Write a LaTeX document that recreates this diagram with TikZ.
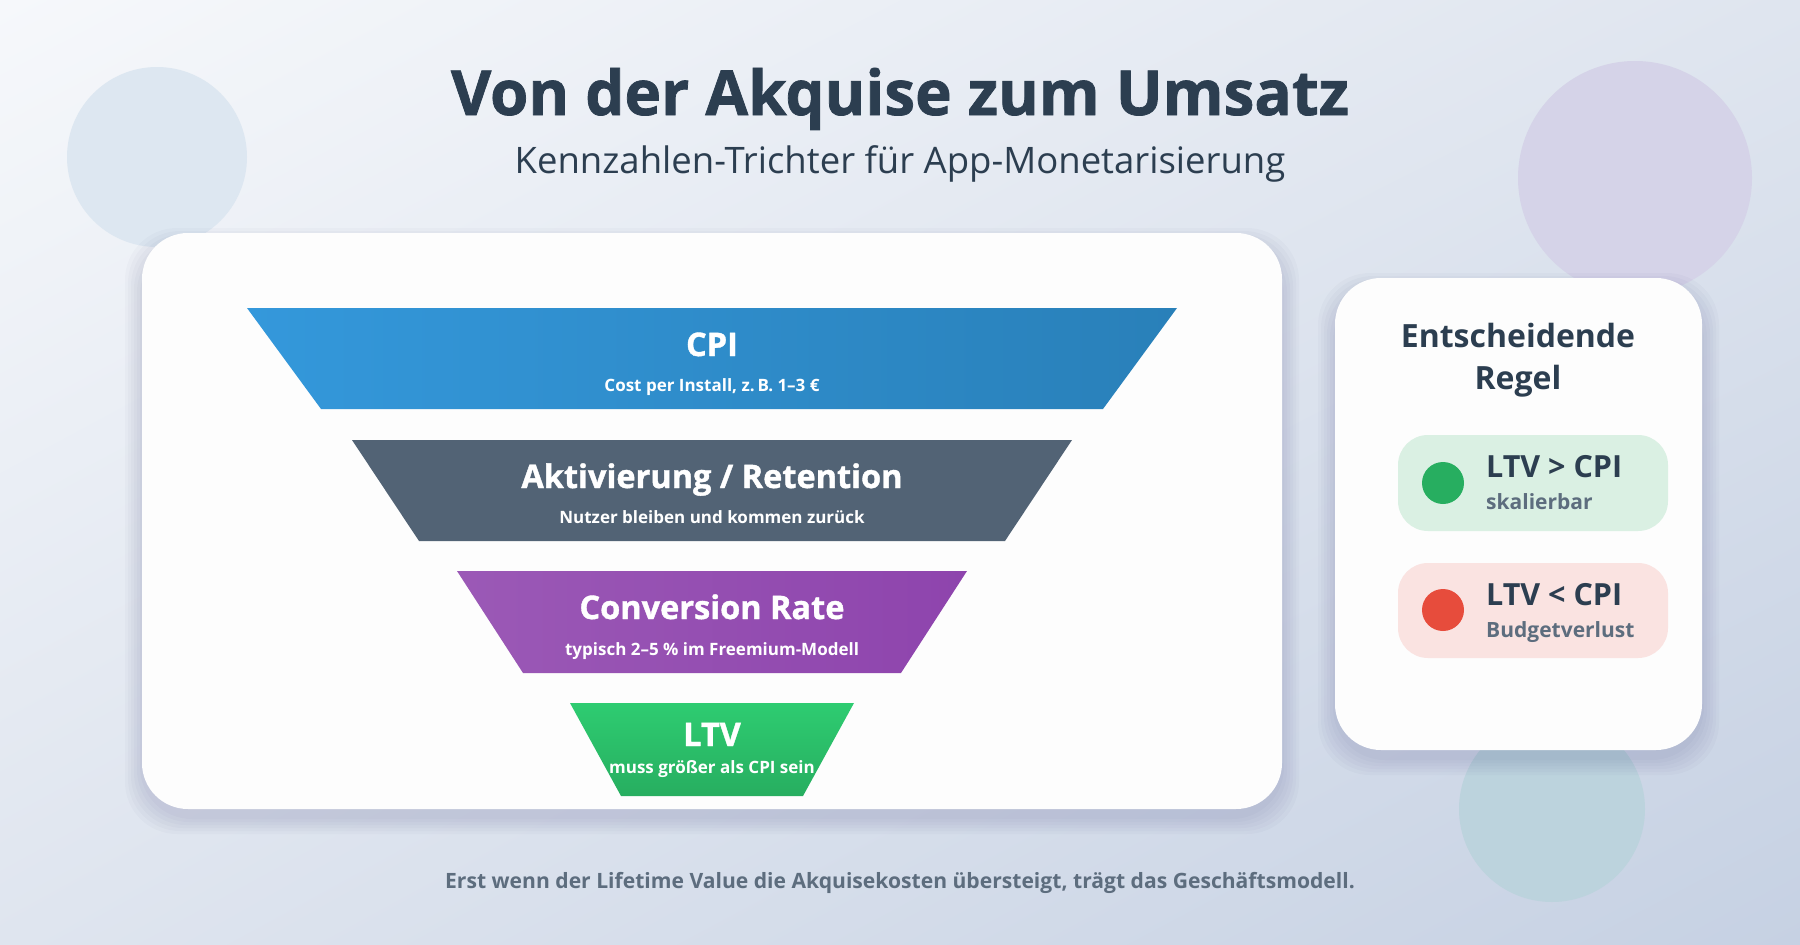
\documentclass[tikz,border=0pt]{standalone}
\usepackage{fontspec}
\setmainfont{Open Sans}
\newfontfamily\heavyfont{Open Sans}[FakeBold=1.2]
\usetikzlibrary{positioning,calc,shadings}
\definecolor{ink}{HTML}{2C3E50}
\definecolor{muted}{HTML}{5D6D7E}
\definecolor{bgA}{HTML}{F6F8FB}
\definecolor{bgM}{HTML}{DFE5EF}
\definecolor{bgB}{HTML}{C6D1E3}
\definecolor{cardwhite}{HTML}{FDFDFD}
\definecolor{cpiA}{HTML}{3498DB}
\definecolor{cpiB}{HTML}{2980B9}
\definecolor{actA}{HTML}{526375}
\definecolor{convA}{HTML}{9B59B6}
\definecolor{convB}{HTML}{8E44AD}
\definecolor{ltvA}{HTML}{2ECC71}
\definecolor{ltvB}{HTML}{27AE60}
\definecolor{okFill}{HTML}{DAF0E3}
\definecolor{badFill}{HTML}{FAE3E1}
\definecolor{okDot}{HTML}{27AE60}
\definecolor{badDot}{HTML}{E74C3C}
\definecolor{blobA}{HTML}{DDE7F1}
\definecolor{blobB}{HTML}{D5D3E8}
\definecolor{blobC}{HTML}{BCD3DD}
\tikzset{
  heading/.style={text=ink,font=\heavyfont\bfseries\fontsize{62}{68}\selectfont,inner sep=0,anchor=base},
  subheading/.style={text=ink,font=\fontsize{36.5}{42}\selectfont,inner sep=0,anchor=base},
  card/.style={fill=cardwhite,rounded corners=46},
  cardshadow/.style={fill=black!70!blue,fill opacity=0.018,rounded corners=52},
  stagetitle/.style={text=white,font=\heavyfont\bfseries\fontsize{32.5}{36}\selectfont,inner sep=0,anchor=base},
  stagesub/.style={text=white,font=\bfseries\fontsize{17}{20}\selectfont,inner sep=0,anchor=base},
  ruletitle/.style={text=ink,font=\bfseries\fontsize{32}{40}\selectfont,inner sep=0,anchor=base},
  rulebox/.style={rounded corners=30},
  dot/.style={circle,inner sep=0,minimum size=42},
  rulemain/.style={text=ink,font=\bfseries\fontsize{30.5}{34}\selectfont,anchor=base west,inner sep=0},
  rulenote/.style={text=muted,font=\bfseries\fontsize{21}{24}\selectfont,anchor=base west,inner sep=0},
  closing/.style={text=muted,font=\bfseries\fontsize{21.1}{24}\selectfont,inner sep=0,anchor=base}
}

\begin{document}
\begin{tikzpicture}[x=1pt,y=-1pt]
  % Page and background
  \useasboundingbox (0,0) rectangle (1800,945);
  \shade[upper left=bgA,upper right=bgM,lower left=bgM,lower right=bgB] (0,0) rectangle (1800,945);

  % Soft circles behind the cards
  \fill[blobA] (157,157) circle (90);
  \fill[blobB] (1635,178) circle (117);
  \fill[blobC] (1552,809) circle (93);

  % Title
  \node[heading] (title) at (900,115) {Von der Akquise zum Umsatz};
  \node[subheading] (subtitle) at (900,173) {Kennzahlen-Trichter für App-Monetarisierung};

  % Funnel card
  \foreach \g in {2,5,8,11,14,17}
    \fill[cardshadow] (142-\g,233-\g+12) rectangle (1282+\g,809+\g+8);
  \fill[card] (142,233) rectangle (1282,809);

  % Funnel stages
  \def\cx{712}
  \shade[left color=cpiA,right color=cpiB]
    (\cx-465,308) -- (\cx+465,308) -- (\cx+391,409) -- (\cx-391,409) -- cycle;
  \fill[actA]
    (\cx-360,440) -- (\cx+360,440) -- (\cx+293,541) -- (\cx-293,541) -- cycle;
  \shade[left color=convA,right color=convB]
    (\cx-255,571) -- (\cx+255,571) -- (\cx+189,673) -- (\cx-189,673) -- cycle;
  \shade[top color=ltvA,bottom color=ltvB]
    (\cx-142,703) -- (\cx+142,703) -- (\cx+91,796) -- (\cx-91,796) -- cycle;

  % Stage labels
  \node[stagetitle] (cpi) at (\cx,356) {CPI};
  \node[stagesub] (cpinote) at (\cx,391) {Cost per Install, z.\,B. 1–3 €};
  \node[stagetitle] (act) at (\cx,488) {Aktivierung / Retention};
  \node[stagesub] (actnote) at (\cx,523) {Nutzer bleiben und kommen zurück};
  \node[stagetitle] (conv) at (\cx,619) {Conversion Rate};
  \node[stagesub] (convnote) at (\cx,655) {typisch 2–5 \% im Freemium-Modell};
  \node[stagetitle] (ltv) at (\cx,746) {LTV};
  \node[stagesub] (ltvnote) at (\cx,773) {muss größer als CPI sein};

  % Rule card
  \foreach \g in {2,5,8,11,14,17}
    \fill[cardshadow] (1335-\g,278-\g+12) rectangle (1702+\g,750+\g+8);
  \fill[card] (1335,278) rectangle (1702,750);
  \node[ruletitle] (rule1) at (1518,347) {Entscheidende};
  \node[ruletitle] (rule2) at (1518,389) {Regel};

  % Good case
  \fill[okFill,rulebox] (1398,435) rectangle (1668,531);
  \node[dot,fill=okDot] (okdot) at (1443,483) {};
  \node[rulemain] (ok) at (1486,477) {LTV > CPI};
  \node[rulenote] (oknote) at (1486,509) {skalierbar};

  % Bad case
  \fill[badFill,rulebox] (1398,563) rectangle (1668,658);
  \node[dot,fill=badDot] (baddot) at (1443,610) {};
  \node[rulemain] (bad) at (1486,605) {LTV < CPI};
  \node[rulenote] (badnote) at (1486,637) {Budgetverlust};

  % Closing line
  \node[closing] (summary) at (900,888) {Erst wenn der Lifetime Value die Akquisekosten übersteigt, trägt das Geschäftsmodell.};
\end{tikzpicture}
\end{document}
